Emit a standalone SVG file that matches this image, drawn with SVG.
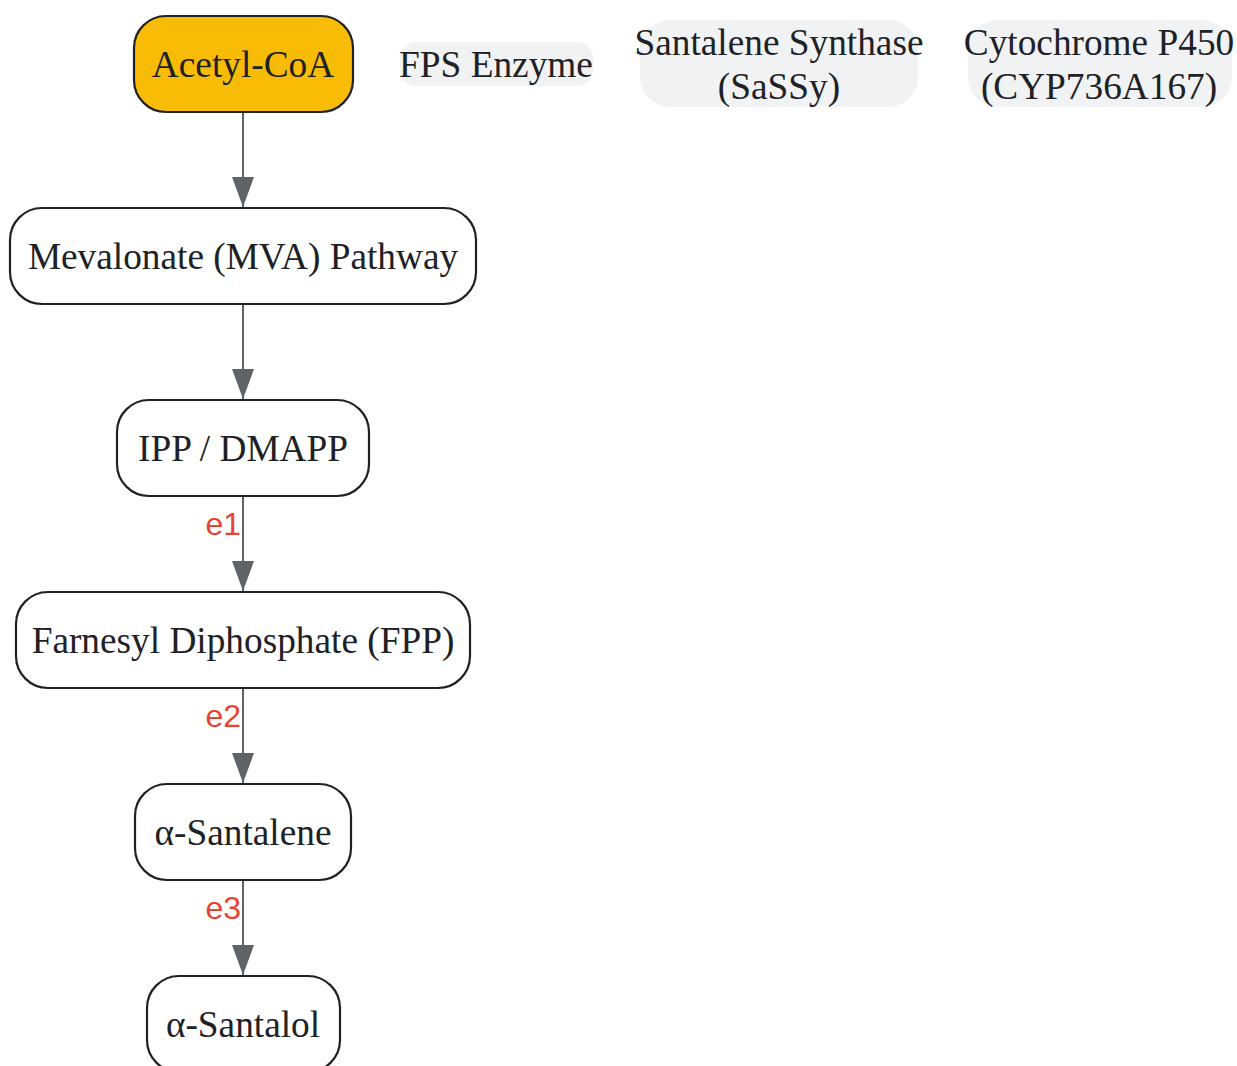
<svg xmlns="http://www.w3.org/2000/svg" width="1237" height="1066" viewBox="0 0 1237 1066">
<defs>
<style>
.node rect{fill:#ffffff;stroke:#202124;stroke-width:2.2}
.start rect{fill:#f9bc06}
.legend rect{fill:#f1f2f4;stroke:none}
text.lbl{font-family:"Liberation Serif","Times New Roman",serif;font-size:37.3px;fill:#202124;text-anchor:middle}
.edge{stroke:#5f6368;stroke-width:2;fill:none}
text.el{font-family:"Liberation Sans",Arial,sans-serif;font-size:32px;fill:#ea4335;text-anchor:end}
</style>
<marker id="arrow" viewBox="0 0 30 22" refX="30" refY="11" markerWidth="30" markerHeight="22" markerUnits="userSpaceOnUse" orient="auto">
<path d="M0,0 L30,11 L0,22 Z" fill="#5f6368"/>
</marker>
</defs>
<g id="connectors">
<line class="edge" x1="243" y1="112" x2="243" y2="207" marker-end="url(#arrow)"/>
<line class="edge" x1="243" y1="304" x2="243" y2="399" marker-end="url(#arrow)"/>
<line class="edge" x1="243" y1="496" x2="243" y2="591" marker-end="url(#arrow)"/>
<line class="edge" x1="243" y1="688" x2="243" y2="783" marker-end="url(#arrow)"/>
<line class="edge" x1="243" y1="880" x2="243" y2="975" marker-end="url(#arrow)"/>
<text class="el" x="241" y="535">e1</text>
<text class="el" x="241" y="727">e2</text>
<text class="el" x="241" y="919">e3</text>
</g>
<g id="acetyl-coa" class="node start"><rect x="134" y="16" width="219" height="96" rx="32"/><text class="lbl" x="243" y="77">Acetyl-CoA</text></g>
<g id="mva" class="node"><rect x="10" y="208" width="466" height="96" rx="32"/><text class="lbl" x="243" y="269">Mevalonate (MVA) Pathway</text></g>
<g id="ipp" class="node"><rect x="117" y="400" width="252" height="96" rx="32"/><text class="lbl" x="243" y="461">IPP / DMAPP</text></g>
<g id="fpp" class="node"><rect x="16" y="592" width="454" height="96" rx="32"/><text class="lbl" x="243" y="653">Farnesyl Diphosphate (FPP)</text></g>
<g id="santalene" class="node"><rect x="135" y="784" width="216" height="96" rx="32"/><text class="lbl" x="243" y="845">α-Santalene</text></g>
<g id="santalol" class="node"><rect x="147" y="976" width="193" height="96" rx="32"/><text class="lbl" x="243" y="1037">α-Santalol</text></g>
<g id="fps" class="legend"><rect x="400" y="42" width="193" height="44" rx="16"/><text class="lbl" x="496" y="77">FPS Enzyme</text></g>
<g id="sassy" class="legend"><rect x="640" y="20" width="278" height="87" rx="30"/><text class="lbl" x="779" y="55">Santalene Synthase</text><text class="lbl" x="779" y="99">(SaSSy)</text></g>
<g id="cyp" class="legend"><rect x="968" y="20" width="264" height="87" rx="30"/><text class="lbl" x="1099" y="55">Cytochrome P450</text><text class="lbl" x="1099" y="99">(CYP736A167)</text></g>
</svg>
